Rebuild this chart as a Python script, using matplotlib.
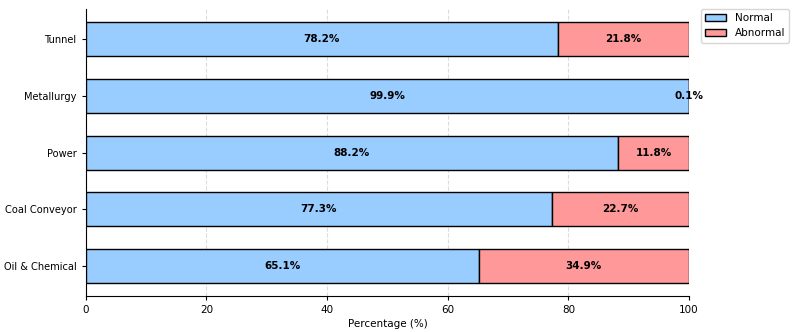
import matplotlib.pyplot as plt

categories = ['Oil & Chemical', 'Coal Conveyor', 'Power', 'Metallurgy', 'Tunnel']
normal = [65.1, 77.3, 88.2, 99.9, 78.2]
abnormal = [34.9, 22.7, 11.8, 0.1, 21.8]

fs = 7.5

fig = plt.figure(figsize=(7.93, 3.32), dpi=100)
ax = fig.add_axes([0.108, 0.108, 0.761, 0.865])

bars_n = ax.barh(categories, normal, height=0.6, color='#99ccff',
                 edgecolor='black', linewidth=1, label='Normal', zorder=3)
bars_a = ax.barh(categories, abnormal, left=normal, height=0.6, color='#ff9999',
                 edgecolor='black', linewidth=1, label='Abnormal', zorder=3)

# percentage labels centred in each segment
for bars, vals, lefts in [(bars_n, normal, [0] * 5), (bars_a, abnormal, normal)]:
    for b, v, l in zip(bars, vals, lefts):
        ax.text(l + v / 2, b.get_y() + b.get_height() / 2, f'{v:.1f}%',
                ha='center', va='center', fontsize=fs, fontweight='bold', zorder=4)

ax.set_xlim(0, 100)
ax.set_xlabel('Percentage (%)', fontsize=fs, labelpad=3)
ax.tick_params(axis='x', labelsize=fs, length=3)
ax.tick_params(axis='y', labelsize=7.1, length=3)
ax.grid(axis='x', linestyle='--', color='lightgray', alpha=0.8, zorder=0)
ax.spines['top'].set_visible(False)
ax.spines['right'].set_visible(False)

ax.legend(loc='upper left', bbox_to_anchor=(1.02, 1), borderaxespad=0, fontsize=fs)

fig.savefig('out.png', dpi=100)
